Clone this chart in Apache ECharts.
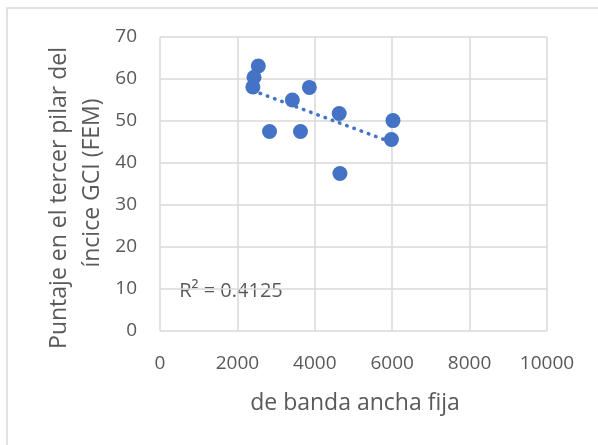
<!DOCTYPE html>
<html>
<head>
<meta charset="utf-8">
<script src="https://cdn.jsdelivr.net/npm/echarts@6/dist/echarts.min.js"></script>
<style>
  html, body { margin: 0; padding: 0; background: #fff; }
  #chart { width: 598px; height: 445px; }
</style>
</head>
<body>
<div id="chart"></div>
<script>
// Fixed broadband (x) vs. GCI third-pillar score (y)
const broadband = [2540, 2430, 2400, 3420, 3860, 4630, 6020, 5980, 2830, 3630, 4650];
const pillarScore = [63.1, 60.4, 58.1, 55.0, 58.0, 51.8, 50.1, 45.6, 47.5, 47.5, 37.5];
const xTicks = [0, 2000, 4000, 6000, 8000, 10000];
const yTicks = [0, 10, 20, 30, 40, 50, 60, 70];
const xTitle = 'de banda ancha fija';
const yTitleLines = ['Puntaje en el tercer pilar del', 'íncice GCI (FEM)'];
const rSquaredLabel = 'R² = 0.4125';

const points = broadband.map((x, i) => [x, pillarScore[i]]);

// Least-squares linear trend over the data range
function linearFit(xs, ys) {
  const n = xs.length;
  const mx = xs.reduce((a, b) => a + b, 0) / n;
  const my = ys.reduce((a, b) => a + b, 0) / n;
  let sxy = 0, sxx = 0;
  for (let i = 0; i < n; i++) {
    sxy += (xs[i] - mx) * (ys[i] - my);
    sxx += (xs[i] - mx) * (xs[i] - mx);
  }
  const slope = sxy / sxx;
  return { slope, intercept: my - slope * mx };
}
const fit = linearFit(broadband, pillarScore);
const xMin = Math.min(...broadband), xMax = Math.max(...broadband);
const trend = [
  [xMin, fit.intercept + fit.slope * xMin],
  [xMax, fit.intercept + fit.slope * xMax]
];

const textColor = '#595959';
const gridColor = '#d9d9d9';
const blue = '#4472C4';
const font = '"Open Sans", sans-serif';

const chart = echarts.init(document.getElementById('chart'), null, { renderer: 'canvas' });
chart.setOption({
  backgroundColor: '#ffffff',
  animation: false,
  grid: { left: 160, right: 51, top: 37, bottom: 114 },
  xAxis: {
    type: 'value',
    min: xTicks[0], max: xTicks[xTicks.length - 1], interval: 2000,
    axisLine: { show: false }, axisTick: { show: false },
    splitLine: { show: true, lineStyle: { color: gridColor, width: 1.5 } },
    axisLabel: { color: textColor, fontSize: 19, fontFamily: font, margin: 23, formatter: v => String(v) }
  },
  yAxis: {
    type: 'value',
    min: yTicks[0], max: yTicks[yTicks.length - 1], interval: 10,
    axisLine: { show: false }, axisTick: { show: false },
    splitLine: { show: true, lineStyle: { color: gridColor, width: 1.5 } },
    axisLabel: { color: textColor, fontSize: 19, fontFamily: font, margin: 23, formatter: v => String(v) }
  },
  series: [
    {
      type: 'line',
      data: trend,
      symbol: 'none',
      silent: true,
      z: 3,
      lineStyle: { color: blue, width: 3.5, type: [0.5, 7.2], cap: 'round' }
    },
    {
      type: 'scatter',
      data: points,
      symbol: 'circle',
      symbolSize: 15,
      z: 4,
      itemStyle: { color: blue, opacity: 1 }
    }
  ],
  graphic: [
    {
      type: 'rect',
      shape: { x: 7, y: 8, width: 640, height: 480 },
      style: { fill: 'none', stroke: gridColor, lineWidth: 1.5 },
      silent: true, z: -1
    },
    {
      type: 'text',
      x: 355, y: 403,
      style: { text: xTitle, fill: textColor, font: '23px ' + font, textAlign: 'center', textVerticalAlign: 'middle' }
    },
    {
      type: 'text',
      x: 59, y: 198, rotation: Math.PI / 2,
      style: { text: yTitleLines[0], fill: textColor, font: '23px ' + font, textAlign: 'center', textVerticalAlign: 'middle' }
    },
    {
      type: 'text',
      x: 92, y: 183, rotation: Math.PI / 2,
      style: { text: yTitleLines[1], fill: textColor, font: '23px ' + font, textAlign: 'center', textVerticalAlign: 'middle' }
    },
    {
      type: 'text',
      x: 231, y: 291,
      style: { text: rSquaredLabel, fill: textColor, font: '20px ' + font, textAlign: 'center', textVerticalAlign: 'middle' }
    }
  ]
});
</script>
</body>
</html>
